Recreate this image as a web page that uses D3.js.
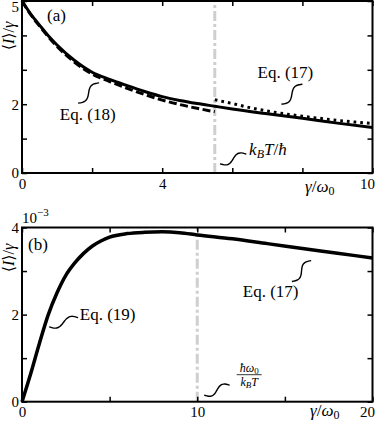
<!DOCTYPE html>
<html><head><meta charset="utf-8">
<script src="https://cdn.jsdelivr.net/npm/d3@7"></script>
<style>
body{margin:0;background:#fff;}
svg{display:block;}
</style></head>
<body><svg id="c" width="375" height="424" font-family="'Liberation Serif','DejaVu Serif','Times New Roman',serif"></svg>
<script>
// ---- Panel (a) data ----
const xSolidA = [0,0.25,0.5,0.75,1,1.5,2,2.5,3,3.5,4,4.5,5,5.5,6,7,8,9,10];
const ySolidA = [5,4.62,4.30,3.99,3.72,3.27,2.93,2.72,2.54,2.37,2.22,2.11,2.02,1.94,1.86,1.72,1.59,1.45,1.32];
const xEq18 = [0,0.25,0.5,0.75,1,1.5,2,2.5,3,3.5,4,4.5,5,5.5];
const yEq18 = [5,4.60,4.27,3.96,3.68,3.22,2.88,2.66,2.46,2.28,2.12,1.99,1.88,1.78];
const xEq17A = [5.5,6,6.5,7,7.5,8,8.5,9,9.5,10];
const yEq17A = [2.13,2.02,1.90,1.80,1.72,1.65,1.59,1.53,1.48,1.44];
const markerA = 5.5;          // k_B T / hbar
const xTicksA = [0,2,4,6,8,10], xLabelsA = [0,4,10];
const yTicksA = [0,1,2,3,4,5], yLabelsA = [0,2,5];
// ---- Panel (b) data (units of 1e-3) ----
const xB = [0,0.5,1,1.5,2,2.5,3,3.5,4,4.5,5,6,7,8,9,10,12,14,16,18,20];
const yBv = [0,0.65,1.35,2.0,2.5,2.9,3.18,3.4,3.57,3.69,3.78,3.86,3.89,3.90,3.88,3.83,3.74,3.63,3.52,3.41,3.30];
const markerB = 10;           // hbar w0 / k_B T
const xTicksB = [0,5,10,15,20], xLabelsB = [0,10,20];
const yTicksB = [0,1,2,3,4], yLabelsB = [0,2,4];

const FONT = "'Liberation Serif','DejaVu Serif','Times New Roman',serif";
const svg = d3.select("#c");
const L = 22, R = 372.5;
const xA = d3.scaleLinear([0,10],[L,R]);
const yA = d3.scaleLinear([0,5],[173,1]);
const xBs = d3.scaleLinear([0,20],[L,R]);
const yBs = d3.scaleLinear([0,4],[401.7,227.5]);

function axes(x, y, xt, xl, yt, yl){
  const [x0,x1] = x.range(), [y0,y1] = y.range();
  const fx = d => xl.includes(d) ? d : "";
  const fy = d => yl.includes(d) ? d : "";
  const gb = svg.append("g").attr("transform",`translate(0,${y0})`)
    .call(d3.axisBottom(x).tickValues(xt).tickSize(-5).tickPadding(5).tickFormat(fx));
  const gt = svg.append("g").attr("transform",`translate(0,${y1})`)
    .call(d3.axisTop(x).tickValues(xt).tickSize(-5).tickFormat(""));
  const gl = svg.append("g").attr("transform",`translate(${x0},0)`)
    .call(d3.axisLeft(y).tickValues(yt).tickSize(-5).tickPadding(3).tickFormat(fy));
  const gr = svg.append("g").attr("transform",`translate(${x1},0)`)
    .call(d3.axisRight(y).tickValues(yt).tickSize(-5).tickFormat(""));
  [gb,gt,gl,gr].forEach(g=>{
    g.attr("font-family",FONT).attr("font-size",15);
    g.select(".domain").remove();
    g.selectAll(".tick line").attr("stroke","#000").attr("stroke-width",1.5);
    g.selectAll("text").attr("fill","#000");
  });
  svg.append("rect").attr("x",x0).attr("y",y1).attr("width",x1-x0).attr("height",y0-y1)
    .attr("fill","none").attr("stroke","#000").attr("stroke-width",2);
  return {gb,gl};
}

function vmark(x,y,v){
  svg.append("line").attr("x1",x(v)).attr("x2",x(v)).attr("y1",y.range()[0]).attr("y2",y.range()[1])
    .attr("stroke","#cfcfcf").attr("stroke-width",3).attr("stroke-dasharray","10,3,3,3");
}
vmark(xA,yA,markerA);
vmark(xBs,yBs,markerB);

const la = (x,y)=>d3.line().x(d=>x(d[0])).y(d=>y(d[1])).curve(d3.curveMonotoneX);
svg.append("path").attr("d",la(xA,yA)(d3.zip(xEq18,yEq18))).attr("fill","none")
  .attr("stroke","#000").attr("stroke-width",3).attr("stroke-dasharray","8,3.5");
svg.append("path").attr("d",la(xA,yA)(d3.zip(xSolidA,ySolidA))).attr("fill","none")
  .attr("stroke","#000").attr("stroke-width",3);
svg.append("path").attr("d",la(xA,yA)(d3.zip(xEq17A,yEq17A))).attr("fill","none")
  .attr("stroke","#000").attr("stroke-width",3).attr("stroke-dasharray","2.7,4");
svg.append("path").attr("d",la(xBs,yBs)(d3.zip(xB,yBv))).attr("fill","none")
  .attr("stroke","#000").attr("stroke-width",3.5);

const A = axes(xA,yA,xTicksA,xLabelsA,yTicksA,yLabelsA);
const B = axes(xBs,yBs,xTicksB,xLabelsB,yTicksB,yLabelsB);
A.gb.selectAll(".tick text").filter(d=>d===10).attr("text-anchor","end").attr("dx",2);
B.gb.selectAll(".tick text").filter(d=>d===20).attr("text-anchor","end").attr("dx",2);
A.gl.selectAll(".tick text").filter(d=>d===5).attr("dy","0.72em");

function squiggle(p0,p1,amp){
  const dx=p1[0]-p0[0], dy=p1[1]-p0[1], len=Math.hypot(dx,dy);
  const nx=-dy/len, ny=dx/len;
  const pts=d3.range(0,1.0001,0.05).map(t=>[p0[0]+t*dx+nx*amp*Math.sin(2*Math.PI*t), p0[1]+t*dy+ny*amp*Math.sin(2*Math.PI*t)]);
  svg.append("path").attr("d",d3.line().curve(d3.curveBasis)(pts)).attr("fill","none")
    .attr("stroke","#000").attr("stroke-width",1.4);
}
function txt(x,y,s,size,italic){
  return svg.append("text").attr("x",x).attr("y",y).attr("font-size",size)
    .attr("font-style",italic?"italic":"normal").attr("fill","#000").text(s);
}
txt(47,21,"(a)",17);
squiggle([xA(1.6),yA(2.03)],[xA(2.2),yA(2.62)],3.5);
txt(xA(1.08),yA(1.55),"Eq. (18)",17);
squiggle([xA(7.4),yA(2.0)],[xA(8.0),yA(2.58)],3.5);
txt(xA(6.72),yA(2.75),"Eq. (17)",17);
squiggle([xA(5.65),yA(0.27)],[xA(6.4),yA(0.55)],3.5);
const kt = txt(xA(6.48),yA(0.53),"",17);
kt.append("tspan").attr("font-style","italic").text("k");
kt.append("tspan").attr("font-style","italic").attr("font-size",12).attr("dy",3).text("B");
kt.append("tspan").attr("font-style","italic").attr("dy",-3).text("T");
kt.append("tspan").text("/");
kt.append("tspan").attr("font-style","italic").text("ħ");
const xl1 = txt(305,192,"",17);
xl1.append("tspan").attr("font-style","italic").text("γ");
xl1.append("tspan").text("/");
xl1.append("tspan").attr("font-style","italic").text("ω");
xl1.append("tspan").attr("font-size",12).attr("dy",3).text("0");
function ylab(cx,cy){
  const t = svg.append("text").attr("transform",`translate(${cx},${cy}) rotate(-90)`)
    .attr("text-anchor","middle").attr("font-size",16).attr("fill","#000");
  t.append("tspan").text("⟨");
  t.append("tspan").attr("font-style","italic").text("I");
  t.append("tspan").text("⟩/");
  t.append("tspan").attr("font-style","italic").text("γ");
}
ylab(14,36);
ylab(14,258);

const e3 = txt(22,223,"10",15);
e3.append("tspan").attr("font-size",11).attr("dy",-7).text("−3");
txt(28,250,"(b)",17);
squiggle([xBs(1.55),yBs(1.72)],[xBs(3.2),yBs(1.93)],3.5);
txt(xBs(3.3),yBs(1.88),"Eq. (19)",17);
squiggle([xBs(15.4),yBs(2.76)],[xBs(16.5),yBs(3.24)],3.5);
txt(xBs(12.6),yBs(2.4),"Eq. (17)",17);
squiggle([xBs(10.4),yBs(0.15)],[xBs(11.85),yBs(0.38)],3.5);
const fx0 = xBs(12.25), fy = yBs(0.62);
const num = txt(fx0+12.5,fy-3,"",12); num.attr("text-anchor","middle");
num.append("tspan").attr("font-style","italic").text("ħω");
num.append("tspan").attr("font-size",9).attr("dy",2).text("0");
svg.append("line").attr("x1",fx0).attr("x2",fx0+25).attr("y1",fy).attr("y2",fy).attr("stroke","#000").attr("stroke-width",0.8);
const den = txt(fx0+12.5,fy+11,"",12); den.attr("text-anchor","middle");
den.append("tspan").attr("font-style","italic").text("k");
den.append("tspan").attr("font-style","italic").attr("font-size",9).attr("dy",2).text("B");
den.append("tspan").attr("font-style","italic").attr("dy",-2).text("T");
const xl2 = txt(310,416,"",17);
xl2.append("tspan").attr("font-style","italic").text("γ");
xl2.append("tspan").text("/");
xl2.append("tspan").attr("font-style","italic").text("ω");
xl2.append("tspan").attr("font-size",12).attr("dy",3).text("0");
</script></body></html>
